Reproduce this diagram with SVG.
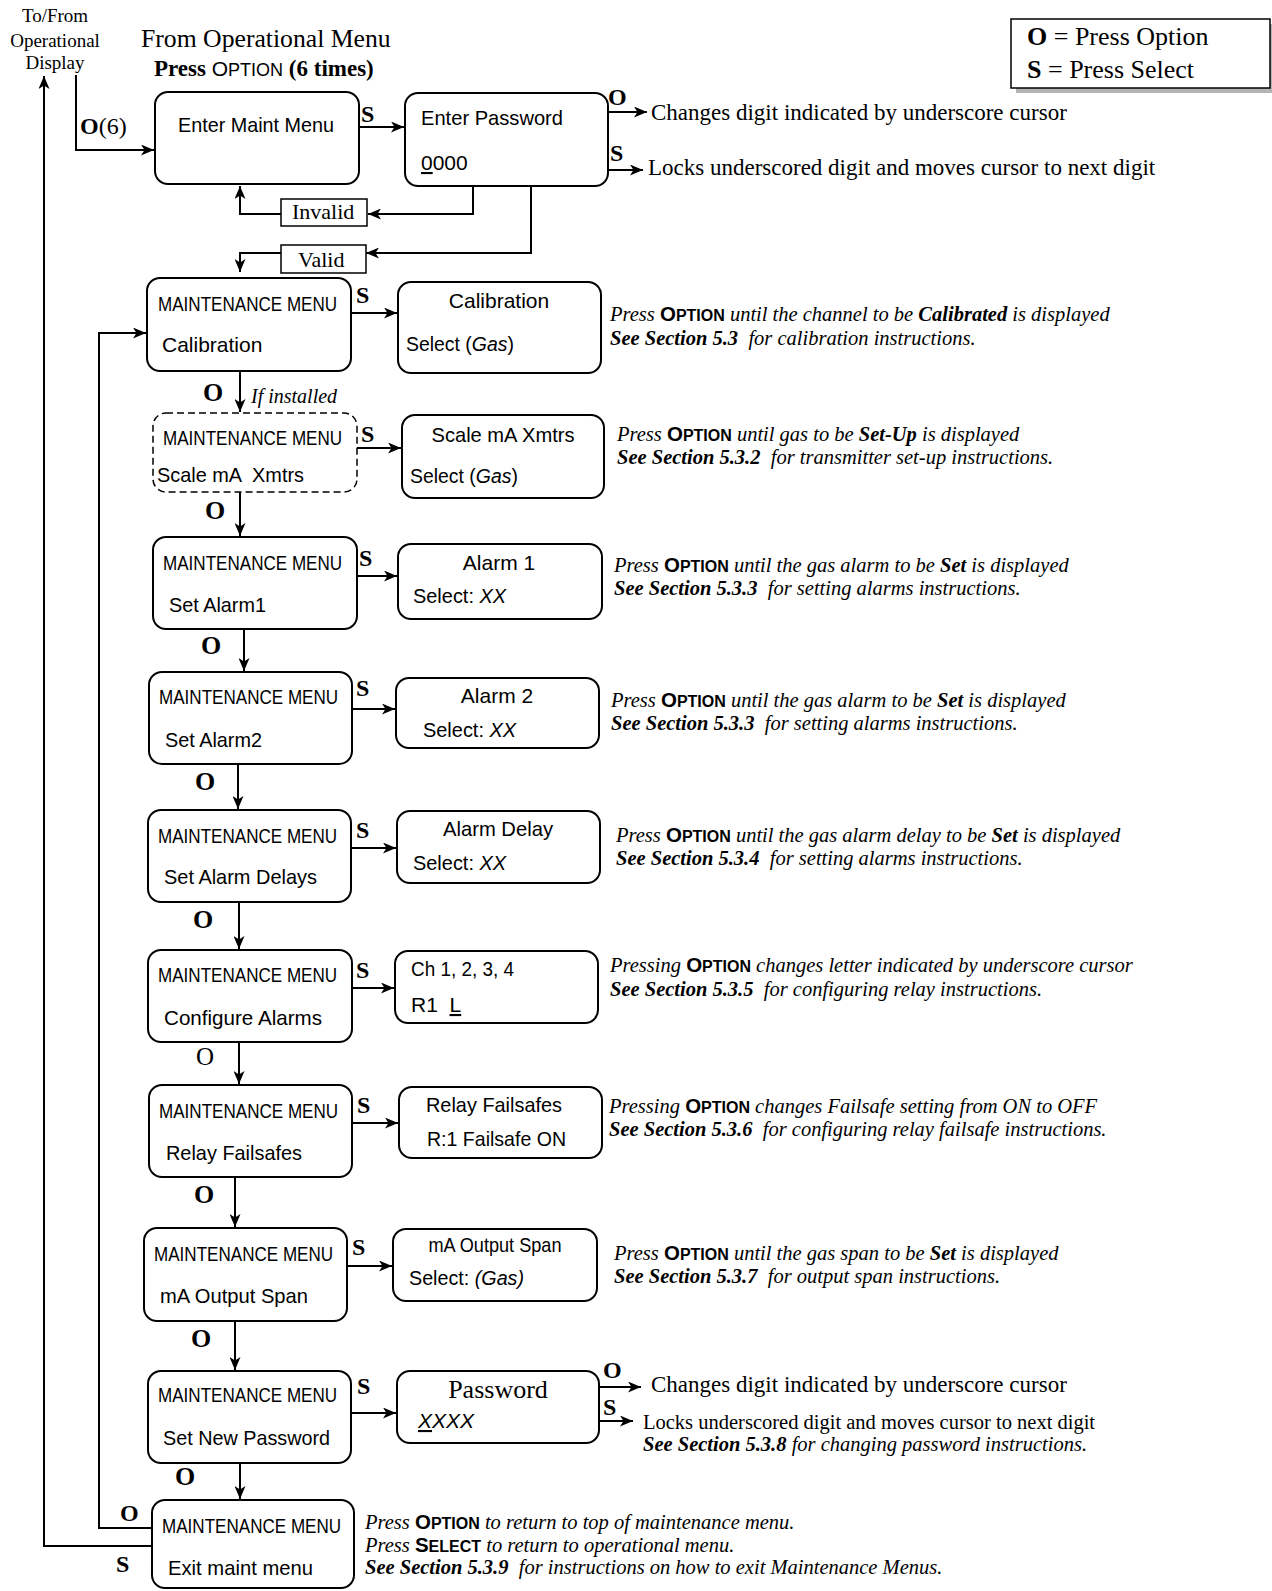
<svg xmlns="http://www.w3.org/2000/svg" width="1272" height="1591" viewBox="0 0 1272 1591">
<style>
.bx{fill:#fff;stroke:#000;stroke-width:2}
.vb{fill:#fff;stroke:#000;stroke-width:1.5}
.ln{fill:none;stroke:#000;stroke-width:2}
.n{font-family:"Liberation Sans Narrow","Arial Narrow","Liberation Sans",sans-serif;font-size:21px;fill:#000}
.t{font-family:"Liberation Serif","Times New Roman",serif;fill:#000}
.lb{font-family:"Liberation Serif","Times New Roman",serif;font-weight:bold;font-size:24px}
.lo{font-family:"Liberation Serif","Times New Roman",serif;font-weight:bold;font-size:26px}
.note{font-family:"Liberation Serif","Times New Roman",serif;font-style:italic;font-size:20.5px}
.opt{font-family:"Liberation Sans",Arial,sans-serif;font-weight:bold;font-style:normal}
.b{font-weight:bold}
.i{font-style:italic}
.u{text-decoration:underline}
</style>
<defs>
<marker id="ah" markerUnits="userSpaceOnUse" markerWidth="14" markerHeight="11" refX="13" refY="5.5" orient="auto">
<path d="M0,0 L13,5.5 L0,11 L3.5,5.5 z" fill="#000"/>
</marker>
</defs>
<rect width="1272" height="1591" fill="#fff"/>

<g id="header">
<text class="t" font-size="19" text-anchor="middle" x="55" y="22">To/From</text>
<text class="t" font-size="19" text-anchor="middle" x="55" y="47">Operational</text>
<text class="t" font-size="19" text-anchor="middle" x="55" y="69">Display</text>
<text class="t" font-size="25.7" x="141" y="47">From Operational Menu</text>
<text class="t" font-size="23" x="154" y="76"><tspan class="b">Press </tspan><tspan class="n" font-size="23">O<tspan font-size="18">PTION</tspan></tspan><tspan class="b"> (6 times)</tspan></text>
</g>

<g id="legend">
<rect x="1016" y="24" width="259" height="69" fill="#b4b4b4"/>
<rect x="1011" y="19" width="259" height="69" fill="#fff" stroke="#000" stroke-width="1.5"/>
<text class="t" font-size="26" x="1027" y="45"><tspan class="b">O</tspan> = Press Option</text>
<text class="t" font-size="26" x="1027" y="78"><tspan class="b">S</tspan> = Press Select</text>
</g>

<g id="connectors">
<path class="ln" d="M76,75 V150 H154" marker-end="url(#ah)"/>
<path class="ln" d="M359,127 H404" marker-end="url(#ah)"/>
<path class="ln" d="M608,112 H647" marker-end="url(#ah)"/>
<path class="ln" d="M608,170 H643" marker-end="url(#ah)"/>
<path class="ln" d="M473,186 V214 H368" marker-end="url(#ah)"/>
<path class="ln" d="M281,214 H240 V186" marker-end="url(#ah)"/>
<path class="ln" d="M531,186 V253 H366" marker-end="url(#ah)"/>
<path class="ln" d="M281,253 H240 V272" marker-end="url(#ah)"/>
<path class="ln" d="M351,313 H397" marker-end="url(#ah)"/>
<path class="ln" d="M240,371 V412" marker-end="url(#ah)"/>
<path class="ln" d="M357,448 H401" marker-end="url(#ah)"/>
<path class="ln" d="M240,492 V536" marker-end="url(#ah)"/>
<path class="ln" d="M357,576 H397" marker-end="url(#ah)"/>
<path class="ln" d="M244,629 V671" marker-end="url(#ah)"/>
<path class="ln" d="M352,709 H395" marker-end="url(#ah)"/>
<path class="ln" d="M238,764 V809" marker-end="url(#ah)"/>
<path class="ln" d="M351,848 H396" marker-end="url(#ah)"/>
<path class="ln" d="M239,902 V949" marker-end="url(#ah)"/>
<path class="ln" d="M352,988 H394" marker-end="url(#ah)"/>
<path class="ln" d="M239,1042 V1084" marker-end="url(#ah)"/>
<path class="ln" d="M352,1123 H398" marker-end="url(#ah)"/>
<path class="ln" d="M235,1177 V1227" marker-end="url(#ah)"/>
<path class="ln" d="M347,1266 H392" marker-end="url(#ah)"/>
<path class="ln" d="M235,1321 V1370" marker-end="url(#ah)"/>
<path class="ln" d="M351,1413 H396" marker-end="url(#ah)"/>
<path class="ln" d="M240,1463 V1499" marker-end="url(#ah)"/>
<path class="ln" d="M599,1387 H641" marker-end="url(#ah)"/>
<path class="ln" d="M599,1421 H633" marker-end="url(#ah)"/>
<path class="ln" d="M152,1528 H99 V333 H146" marker-end="url(#ah)"/>
<path class="ln" d="M152,1546 H44 V76" marker-end="url(#ah)"/>
</g>

<g id="conn-labels">
<text class="lb" font-size="23" x="80" y="134">O<tspan font-weight="normal">(6)</tspan></text>
<text class="lb" x="361" y="122">S</text>
<text class="lb" x="608" y="105">O</text>
<text class="lb" x="610" y="161">S</text>
<rect class="vb" x="281" y="199" width="86" height="27"/>
<text class="t" font-size="22" x="292" y="219">Invalid</text>
<rect class="vb" x="281" y="245" width="85" height="28"/>
<text class="t" font-size="22" x="298" y="267">Valid</text>
<text class="lb" x="356" y="303">S</text>
<text class="lo" font-size="28" x="203" y="401">O</text>
<text class="t i" font-size="20" x="251" y="403">If installed</text>
<text class="lb" x="361" y="442">S</text>
<text class="lo" x="205" y="519">O</text>
<text class="lb" x="359" y="566">S</text>
<text class="lo" x="201" y="654">O</text>
<text class="lb" x="356" y="696">S</text>
<text class="lo" x="195" y="790">O</text>
<text class="lb" x="356" y="838">S</text>
<text class="lo" x="193" y="928">O</text>
<text class="lb" x="356" y="978">S</text>
<text class="t" font-size="25" x="196" y="1065">O</text>
<text class="lb" x="357" y="1113">S</text>
<text class="lo" x="194" y="1203">O</text>
<text class="lb" x="352" y="1255">S</text>
<text class="lo" x="191" y="1347">O</text>
<text class="lb" x="357" y="1394">S</text>
<text class="lo" x="175" y="1485">O</text>
<text class="lb" x="603" y="1378">O</text>
<text class="lb" x="603" y="1415">S</text>
<text class="lb" x="120" y="1521">O</text>
<text class="lb" x="116" y="1572">S</text>
</g>

<g id="n-enter-maint">
<rect class="bx" x="155" y="92" width="204" height="92" rx="13"/>
<text class="n" x="178" y="132" textLength="156" lengthAdjust="spacingAndGlyphs">Enter Maint Menu</text>
</g>
<g id="n-enter-password">
<rect class="bx" x="405" y="93" width="203" height="93" rx="13"/>
<text class="n" x="421" y="125" textLength="142" lengthAdjust="spacingAndGlyphs">Enter Password</text>
<text class="n" font-size="24" x="421" y="170"><tspan class="u">0</tspan>000</text>
</g>

<g id="n-mm-calibration">
<rect class="bx" x="147" y="278" width="204" height="93" rx="13"/>
<text class="n" transform="matrix(0.8127 0 0 1 158 311)">MAINTENANCE MENU</text>
<text class="n" x="162" y="352">Calibration</text>
</g>
<g id="n-calibration">
<rect class="bx" x="398" y="282" width="203" height="91" rx="13"/>
<text class="n" x="499" y="308" text-anchor="middle">Calibration</text>
<text class="n" transform="matrix(0.925 0 0 1 406 351)">Select (<tspan class="i">Gas</tspan>)</text>
</g>

<g id="n-mm-scale">
<rect x="153" y="413" width="204" height="79" rx="13" fill="#fff" stroke="#000" stroke-width="1.5" stroke-dasharray="7,4"/>
<text class="n" transform="matrix(0.8127 0 0 1 163 445)">MAINTENANCE MENU</text>
<text class="n" x="157" y="482" xml:space="preserve" textLength="147" lengthAdjust="spacingAndGlyphs">Scale mA  Xmtrs</text>
</g>
<g id="n-scale">
<rect class="bx" x="402" y="415" width="202" height="83" rx="13"/>
<text class="n" x="503" y="442" text-anchor="middle" textLength="143" lengthAdjust="spacingAndGlyphs">Scale mA Xmtrs</text>
<text class="n" transform="matrix(0.925 0 0 1 410 483)">Select (<tspan class="i">Gas</tspan>)</text>
</g>

<g id="n-mm-alarm1">
<rect class="bx" x="153" y="537" width="204" height="92" rx="13"/>
<text class="n" transform="matrix(0.8127 0 0 1 163 570)">MAINTENANCE MENU</text>
<text class="n" x="169" y="612" textLength="97" lengthAdjust="spacingAndGlyphs">Set Alarm1</text>
</g>
<g id="n-alarm1">
<rect class="bx" x="398" y="544" width="204" height="75" rx="13"/>
<text class="n" x="499" y="570" text-anchor="middle">Alarm 1</text>
<text class="n" transform="matrix(0.949 0 0 1 413 603)">Select: <tspan class="i">XX</tspan></text>
</g>

<g id="n-mm-alarm2">
<rect class="bx" x="149" y="672" width="203" height="92" rx="13"/>
<text class="n" transform="matrix(0.8127 0 0 1 159 704)">MAINTENANCE MENU</text>
<text class="n" x="165" y="747" textLength="97" lengthAdjust="spacingAndGlyphs">Set Alarm2</text>
</g>
<g id="n-alarm2">
<rect class="bx" x="396" y="678" width="203" height="70" rx="13"/>
<text class="n" x="497" y="703" text-anchor="middle">Alarm 2</text>
<text class="n" transform="matrix(0.949 0 0 1 423 737)">Select: <tspan class="i">XX</tspan></text>
</g>

<g id="n-mm-delays">
<rect class="bx" x="148" y="810" width="203" height="92" rx="13"/>
<text class="n" transform="matrix(0.8127 0 0 1 158 843)">MAINTENANCE MENU</text>
<text class="n" x="164" y="884" textLength="153" lengthAdjust="spacingAndGlyphs">Set Alarm Delays</text>
</g>
<g id="n-delay">
<rect class="bx" x="397" y="811" width="203" height="72" rx="13"/>
<text class="n" x="498" y="836" text-anchor="middle" textLength="110" lengthAdjust="spacingAndGlyphs">Alarm Delay</text>
<text class="n" transform="matrix(0.949 0 0 1 413 870)">Select: <tspan class="i">XX</tspan></text>
</g>

<g id="n-mm-configure">
<rect class="bx" x="148" y="950" width="204" height="92" rx="13"/>
<text class="n" transform="matrix(0.8127 0 0 1 158 982)">MAINTENANCE MENU</text>
<text class="n" x="164" y="1025" textLength="158" lengthAdjust="spacingAndGlyphs">Configure Alarms</text>
</g>
<g id="n-channels">
<rect class="bx" x="395" y="951" width="203" height="72" rx="13"/>
<text class="n" x="411" y="976" textLength="103" lengthAdjust="spacingAndGlyphs">Ch 1, 2, 3, 4</text>
<text class="n" x="411" y="1012" xml:space="preserve">R1  <tspan class="u">L</tspan></text>
</g>

<g id="n-mm-relay">
<rect class="bx" x="149" y="1085" width="203" height="92" rx="13"/>
<text class="n" transform="matrix(0.8127 0 0 1 159 1118)">MAINTENANCE MENU</text>
<text class="n" x="166" y="1160" textLength="136" lengthAdjust="spacingAndGlyphs">Relay Failsafes</text>
</g>
<g id="n-relay">
<rect class="bx" x="399" y="1087" width="203" height="71" rx="13"/>
<text class="n" x="426" y="1112" textLength="136" lengthAdjust="spacingAndGlyphs">Relay Failsafes</text>
<text class="n" x="427" y="1146" textLength="139" lengthAdjust="spacingAndGlyphs">R:1 Failsafe ON</text>
</g>

<g id="n-mm-span">
<rect class="bx" x="144" y="1228" width="203" height="93" rx="13"/>
<text class="n" transform="matrix(0.8127 0 0 1 154 1261)">MAINTENANCE MENU</text>
<text class="n" x="160" y="1303" textLength="148" lengthAdjust="spacingAndGlyphs">mA Output Span</text>
</g>
<g id="n-span">
<rect class="bx" x="393" y="1229" width="204" height="72" rx="13"/>
<text class="n" font-size="19" x="495" y="1252" text-anchor="middle" textLength="133" lengthAdjust="spacingAndGlyphs">mA Output Span</text>
<text class="n" transform="matrix(0.939 0 0 1 409 1285)">Select: <tspan class="i">(Gas)</tspan></text>
</g>

<g id="n-mm-newpw">
<rect class="bx" x="148" y="1371" width="203" height="92" rx="13"/>
<text class="n" transform="matrix(0.8127 0 0 1 158 1402)">MAINTENANCE MENU</text>
<text class="n" x="163" y="1445" textLength="167" lengthAdjust="spacingAndGlyphs">Set New Password</text>
</g>
<g id="n-password">
<rect class="bx" x="397" y="1371" width="202" height="72" rx="13"/>
<text class="t" font-size="26" x="498" y="1398" text-anchor="middle">Password</text>
<text class="n i" x="418" y="1428"><tspan class="u">X</tspan>XXX</text>
</g>

<g id="n-mm-exit">
<rect class="bx" x="152" y="1500" width="202" height="88" rx="13"/>
<text class="n" transform="matrix(0.8127 0 0 1 162 1533)">MAINTENANCE MENU</text>
<text class="n" x="168" y="1575" textLength="145" lengthAdjust="spacingAndGlyphs">Exit maint menu</text>
</g>

<g id="notes">
<text class="t" font-size="23" x="651" y="120">Changes digit indicated by underscore cursor</text>
<text class="t" font-size="23" x="648" y="175">Locks underscored digit and moves cursor to next digit</text>

<text class="note" x="610" y="321" xml:space="preserve">Press <tspan class="opt">O<tspan font-size="16">PTION</tspan></tspan> until the channel to be <tspan class="b">Calibrated</tspan> is displayed</text>
<text class="note" x="610" y="345" xml:space="preserve"><tspan class="b">See Section 5.3</tspan>  for calibration instructions.</text>

<text class="note" x="617" y="441" xml:space="preserve">Press <tspan class="opt">O<tspan font-size="16">PTION</tspan></tspan> until gas to be <tspan class="b">Set-Up</tspan> is displayed</text>
<text class="note" x="617" y="464" xml:space="preserve"><tspan class="b">See Section 5.3.2</tspan>  for transmitter set-up instructions.</text>

<text class="note" x="614" y="572" xml:space="preserve">Press <tspan class="opt">O<tspan font-size="16">PTION</tspan></tspan> until the gas alarm to be <tspan class="b">Set</tspan> is displayed</text>
<text class="note" x="614" y="595" xml:space="preserve"><tspan class="b">See Section 5.3.3</tspan>  for setting alarms instructions.</text>

<text class="note" x="611" y="707" xml:space="preserve">Press <tspan class="opt">O<tspan font-size="16">PTION</tspan></tspan> until the gas alarm to be <tspan class="b">Set</tspan> is displayed</text>
<text class="note" x="611" y="730" xml:space="preserve"><tspan class="b">See Section 5.3.3</tspan>  for setting alarms instructions.</text>

<text class="note" x="616" y="842" xml:space="preserve">Press <tspan class="opt">O<tspan font-size="16">PTION</tspan></tspan> until the gas alarm delay to be <tspan class="b">Set</tspan> is displayed</text>
<text class="note" x="616" y="865" xml:space="preserve"><tspan class="b">See Section 5.3.4</tspan>  for setting alarms instructions.</text>

<text class="note" x="610" y="972" xml:space="preserve">Pressing <tspan class="opt">O<tspan font-size="16">PTION</tspan></tspan> changes letter indicated by underscore cursor</text>
<text class="note" x="610" y="996" xml:space="preserve"><tspan class="b">See Section 5.3.5</tspan>  for configuring relay instructions.</text>

<text class="note" x="609" y="1113" xml:space="preserve">Pressing <tspan class="opt">O<tspan font-size="16">PTION</tspan></tspan> changes Failsafe setting from ON to OFF</text>
<text class="note" x="609" y="1136" xml:space="preserve"><tspan class="b">See Section 5.3.6</tspan>  for configuring relay failsafe instructions.</text>

<text class="note" x="614" y="1260" xml:space="preserve">Press <tspan class="opt">O<tspan font-size="16">PTION</tspan></tspan> until the gas span to be <tspan class="b">Set</tspan> is displayed</text>
<text class="note" x="614" y="1283" xml:space="preserve"><tspan class="b">See Section 5.3.7</tspan>  for output span instructions.</text>

<text class="t" font-size="23" x="651" y="1392">Changes digit indicated by underscore cursor</text>
<text class="t" font-size="20.5" x="643" y="1429">Locks underscored digit and moves cursor to next digit</text>
<text class="note" font-size="19" x="643" y="1451" xml:space="preserve"><tspan class="b">See Section 5.3.8</tspan> for changing password instructions.</text>

<text class="note" x="365" y="1529" xml:space="preserve">Press <tspan class="opt">O<tspan font-size="16">PTION</tspan></tspan> to return to top of maintenance menu.</text>
<text class="note" x="365" y="1552" xml:space="preserve">Press <tspan class="opt">S<tspan font-size="16">ELECT</tspan></tspan> to return to operational menu.</text>
<text class="note" x="365" y="1574" xml:space="preserve"><tspan class="b">See Section 5.3.9</tspan>  for instructions on how to exit Maintenance Menus.</text>
</g>
</svg>
